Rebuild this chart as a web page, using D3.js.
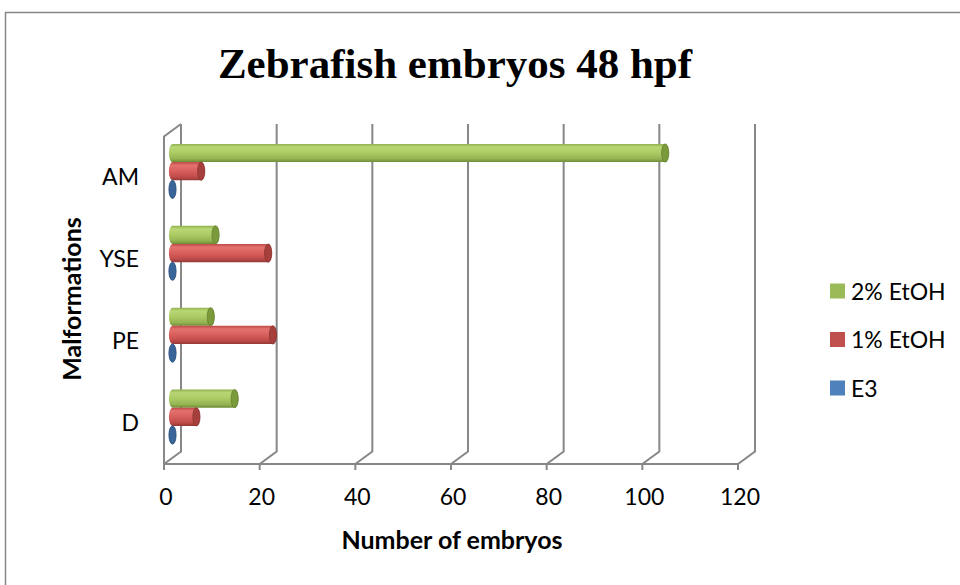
<!DOCTYPE html>
<html>
<head>
<meta charset="utf-8">
<script src="https://cdn.jsdelivr.net/npm/d3@7"></script>
<style>
  html, body { margin: 0; padding: 0; background: #fff; }
  svg { display: block; }
</style>
</head>
<body>
<svg id="chart" width="960" height="585"></svg>
<script>
// ---- data ----
const categories = ["AM", "YSE", "PE", "D"];           // top to bottom
const seriesNames = ["2% EtOH", "1% EtOH", "E3"];      // top to bottom inside a group
const etoh2 = [103, 9, 8, 13];
const etoh1 = [6, 20, 21, 5];
const e3 = [0, 0, 0, 0];
const xTicks = [0, 20, 40, 60, 80, 100, 120];
const chartTitle = "Zebrafish embryos 48 hpf";
const xTitle = "Number of embryos";
const yTitle = "Malformations";

const seriesValues = [etoh2, etoh1, e3];
const seriesColors = ["#9bbb59", "#c0504d", "#4f81bd"];

// ---- layout ----
const svg = d3.select("#chart");
const fontSans = "Lato, 'Open Sans', sans-serif";

const depthX = 17, depthY = -12.5;      // 3D depth offset (front -> back)
const x = d3.scaleLinear().domain([0, 120]).range([164, 738]);
const y = d3.scaleBand().domain(categories).range([136.5, 464]).paddingInner(0).paddingOuter(0);
const bw = y.bandwidth();
const barH = bw / 4.5;          // gap width 150%
const gapOff = barH * 0.75;

// chart area border
svg.append("rect").attr("x", 5.5).attr("y", 12.5).attr("width", 1100).attr("height", 700)
  .attr("fill", "#fff").attr("stroke", "#868686").attr("stroke-width", 1.5);

// gradients
const defs = svg.append("defs");
const grads = [
  { id: "g0", stops: ["#8fb04e", "#b9d775", "#aacb64", "#94b352", "#6e8c36"] },
  { id: "g1", stops: ["#bf4a47", "#e3726e", "#d85f5b", "#bf4b48", "#933836"] },
  { id: "g2", stops: ["#456fa5", "#6f9ad0", "#5686c2", "#4674ad", "#365a88"] }
];
const offs = [0, 0.18, 0.5, 0.82, 1];
grads.forEach(g => {
  const lg = defs.append("linearGradient").attr("id", g.id)
    .attr("x1", 0).attr("y1", 0).attr("x2", 0).attr("y2", 1);
  g.stops.forEach((c, i) => lg.append("stop").attr("offset", offs[i]).attr("stop-color", c));
});
const capColors = ["#7a9a3c", "#a5403d", "#3a6598"];
const capEdge = ["#65812f", "#8a3331", "#2f5380"];

// ---- walls / gridlines ----
const gridColor = "#878787";
const g = svg.append("g").attr("fill", "none").attr("stroke", gridColor).attr("stroke-width", 2);
const yFrontTop = y.range()[0], yFrontBot = y.range()[1];
xTicks.forEach(t => {
  g.append("path").attr("d",
    `M${x(t) + depthX},${yFrontTop + depthY} L${x(t) + depthX},${yFrontBot + depthY} L${x(t)},${yFrontBot}`);
});
g.append("line").attr("x1", x(0)).attr("x2", x(120)).attr("y1", yFrontBot).attr("y2", yFrontBot);
xTicks.forEach(t => {
  g.append("line").attr("x1", x(t)).attr("x2", x(t)).attr("y1", yFrontBot).attr("y2", yFrontBot + 6);
});
g.append("path").attr("d",
  `M${x(0)},${yFrontBot} L${x(0)},${yFrontTop} L${x(0) + depthX},${yFrontTop + depthY}`);

// ---- bars (cylinders) ----
const rx = 3.6;
const bars = svg.append("g");
categories.forEach((cat, ci) => {
  seriesValues.forEach((vals, si) => {
    const v = vals[ci];
    const yTop = y(cat) + depthY / 2 + gapOff + si * barH;
    const yBot = yTop + barH;
    const ry = barH / 2;
    const xs = x(0) + depthX / 2;
    const xe = x(v) + depthX / 2;
    bars.append("path")
      .attr("d", `M${xs},${yTop} L${xe},${yTop} A${rx},${ry} 0 0 1 ${xe},${yBot} L${xs},${yBot} A${rx},${ry} 0 0 1 ${xs},${yTop} Z`)
      .attr("fill", `url(#g${si})`);
    bars.append("ellipse")
      .attr("cx", xe).attr("cy", yTop + ry).attr("rx", rx).attr("ry", ry)
      .attr("fill", capColors[si]).attr("stroke", capEdge[si]).attr("stroke-width", 0.8);
  });
});

// ---- axis labels ----
svg.append("g").selectAll("text").data(xTicks).join("text")
  .attr("x", d => x(d) + 2).attr("y", 505)
  .attr("text-anchor", "middle")
  .attr("font-family", fontSans).attr("font-size", 23).attr("fill", "#000")
  .text(d => d);

svg.append("g").selectAll("text").data(categories).join("text")
  .attr("x", 139).attr("y", d => y(d) + bw / 2 + 8)
  .attr("text-anchor", "end")
  .attr("font-family", fontSans).attr("font-size", 23).attr("fill", "#000")
  .text(d => d);

svg.append("text").attr("x", 452).attr("y", 549).attr("text-anchor", "middle")
  .attr("font-family", fontSans).attr("font-size", 25).attr("font-weight", "bold")
  .text(xTitle);

svg.append("text").attr("transform", "translate(81,299) rotate(-90)").attr("text-anchor", "middle")
  .attr("font-family", fontSans).attr("font-size", 25).attr("font-weight", "bold")
  .text(yTitle);

svg.append("text").attr("x", 455).attr("y", 78).attr("text-anchor", "middle")
  .attr("font-family", "'Liberation Serif', 'Times New Roman', serif")
  .attr("font-size", 43).attr("font-weight", "bold")
  .text(chartTitle);

// ---- legend ----
const legend = svg.append("g");
seriesNames.forEach((name, i) => {
  const cy = 291 + i * 48.5;
  legend.append("rect").attr("x", 830).attr("y", cy - 7.5).attr("width", 15).attr("height", 15)
    .attr("fill", seriesColors[i]);
  legend.append("text").attr("x", 851).attr("y", cy + 8.5)
    .attr("font-family", fontSans).attr("font-size", 23).text(name);
});
</script>
</body>
</html>
